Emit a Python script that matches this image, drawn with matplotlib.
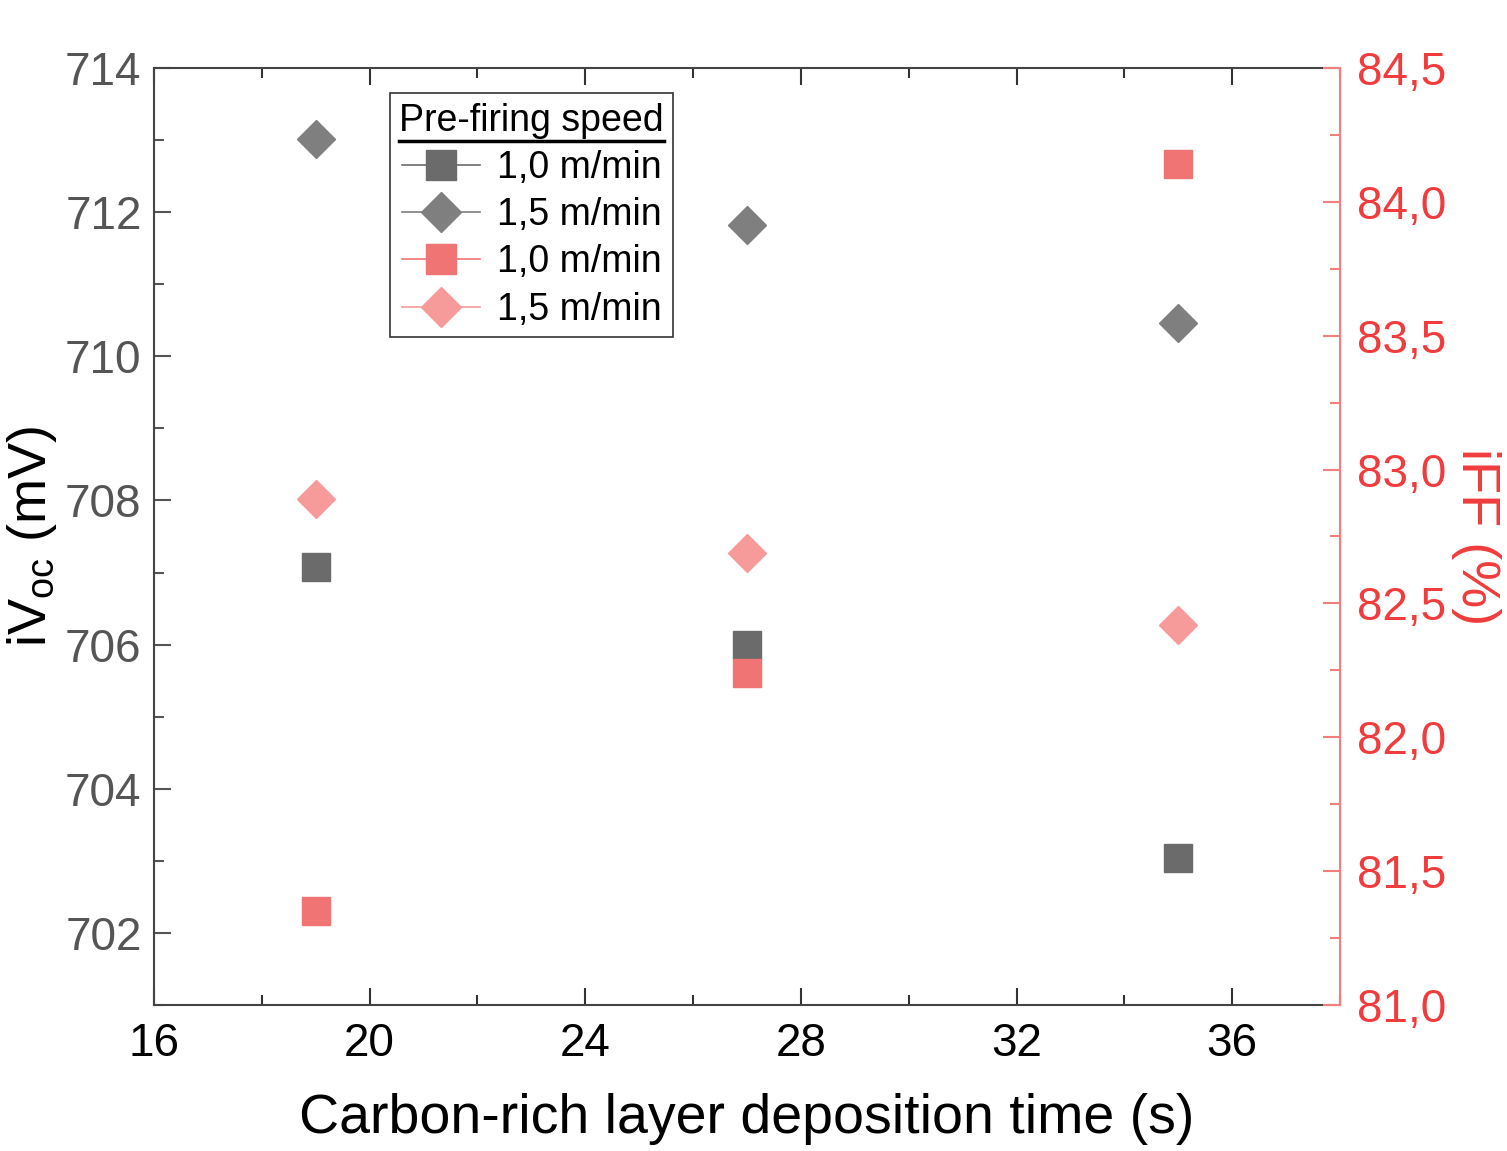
import numpy as np
import matplotlib.pyplot as plt
from matplotlib.ticker import MultipleLocator, FuncFormatter
from matplotlib.lines import Line2D

plt.rcParams['font.family'] = ['Liberation Sans', 'DejaVu Sans']

# data
time_s = [19, 27, 35]
voc_10 = [707.08, 706.0, 703.04]   # iVoc, 1,0 m/min
voc_15 = [713.01, 711.82, 710.46]  # iVoc, 1,5 m/min
ff_10 = [81.35, 82.24, 84.14]      # iFF, 1,0 m/min
ff_15 = [82.89, 82.69, 82.42]      # iFF, 1,5 m/min
speeds = ['1,0 m/min', '1,5 m/min']

gray_sq = '#6b6b6b'
gray_di = '#7f7f7f'
red_sq = '#f07474'
red_di = '#f79a9a'
red_ax = '#f03c3c'
red_spine = '#f08080'

fig = plt.figure(figsize=(15.07, 11.51), dpi=100)
ax = fig.add_axes([154/1507, 1-1005/1151, (1340-154)/1507, (1005-68)/1151])
ax2 = ax.twinx()

ax.plot(time_s, voc_10, 's', color=gray_sq, ms=20, ls='none')
ax.plot(time_s, voc_15, 'D', color=gray_di, ms=19, ls='none')
ax2.plot(time_s, ff_10, 's', color=red_sq, ms=20, ls='none')
ax2.plot(time_s, ff_15, 'D', color=red_di, ms=19, ls='none')

ax.set_xlim(16, 38)
ax.set_ylim(701, 714)
ax2.set_ylim(81.0, 84.5)

ax.xaxis.set_major_locator(MultipleLocator(4))
ax.xaxis.set_minor_locator(MultipleLocator(2))
ax.yaxis.set_major_locator(MultipleLocator(2))
ax.yaxis.set_minor_locator(MultipleLocator(1))
ax2.yaxis.set_major_locator(MultipleLocator(0.5))
ax2.yaxis.set_minor_locator(MultipleLocator(0.25))
ax2.yaxis.set_major_formatter(FuncFormatter(lambda v, p: f'{v:.1f}'.replace('.', ',')))

ax.tick_params(axis='x', which='both', direction='in', top=True, labelsize=33,
               colors='#333333', labelcolor='black', pad=12)
ax.tick_params(axis='x', which='major', length=12, width=1.5)
ax.tick_params(axis='x', which='minor', length=7, width=1.5)
ax.tick_params(axis='y', which='both', direction='in', labelsize=33,
               colors='#555555', labelcolor='#555555', pad=9)
ax.tick_params(axis='y', which='major', length=12, width=1.5)
ax.tick_params(axis='y', which='minor', length=7, width=1.5)
ax2.tick_params(axis='y', which='both', direction='in', labelsize=33,
                colors=red_spine, labelcolor=red_ax, pad=12)
ax2.tick_params(axis='y', which='major', length=12, width=1.5)
ax2.tick_params(axis='y', which='minor', length=7, width=1.5)

for s in ['left', 'bottom', 'top']:
    ax.spines[s].set_color('#444444')
    ax.spines[s].set_linewidth(1.5)
ax2.spines['right'].set_color(red_spine)
ax2.spines['right'].set_linewidth(1.5)
ax2.spines['left'].set_visible(False)
ax2.spines['top'].set_visible(False)
ax2.spines['bottom'].set_visible(False)

ax.set_xlabel('Carbon-rich layer deposition time (s)', fontsize=40, labelpad=20)
ax.set_ylabel('iV$_{\\mathregular{oc}}$ (mV)', fontsize=39, labelpad=4)
ax2.set_ylabel('iFF (%)', fontsize=39, color=red_ax, rotation=270, labelpad=40)

handles = [
    Line2D([], [], color=gray_sq, marker='s', ms=21, lw=1.2),
    Line2D([], [], color=gray_di, marker='D', ms=20, lw=1.2),
    Line2D([], [], color=red_sq, marker='s', ms=21, lw=1.2),
    Line2D([], [], color=red_di, marker='D', ms=20, lw=1.2),
]
labels = [speeds[0], speeds[1], speeds[0], speeds[1]]
leg = ax2.legend(handles, labels, title='Pre-firing speed', loc='upper left',
                 bbox_to_anchor=(0.199, 0.973), fontsize=27, title_fontsize=27,
                 frameon=True, fancybox=False, edgecolor='black', handlelength=2.1,
                 handletextpad=0.45, borderpad=0.25, labelspacing=0.3, borderaxespad=0)
leg.get_frame().set_linewidth(1.2)

# underline the legend title
fig.canvas.draw()
tb = leg.get_title().get_window_extent().transformed(fig.transFigure.inverted())
fig.add_artist(Line2D([tb.x0, tb.x1], [tb.y0 - 0.002, tb.y0 - 0.002],
                      transform=fig.transFigure, color='black', lw=2.5))

fig.savefig('out.png', dpi=100)
